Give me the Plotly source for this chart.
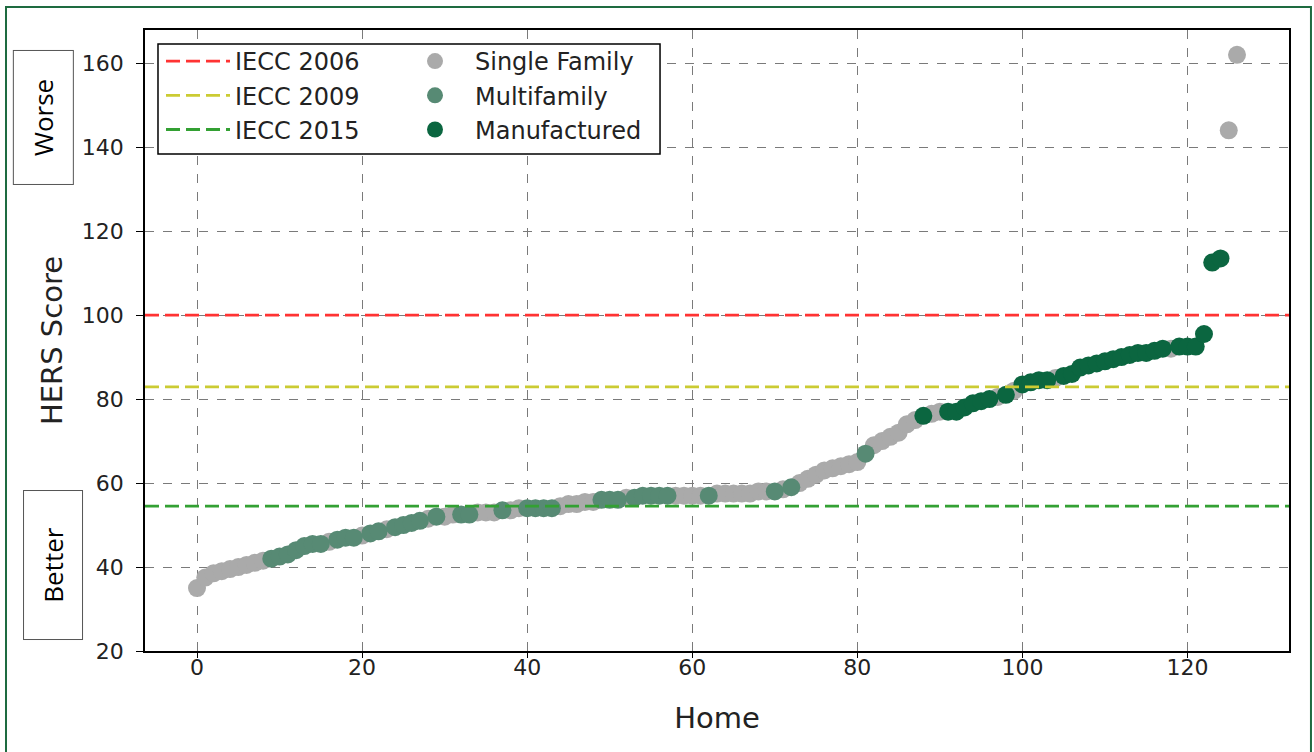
import plotly.graph_objects as go

# HERS scores for 127 homes, sorted ascending, with building type
scores = [
    35, 37.5, 38.5, 39, 39.5, 40, 40.5, 41, 41.5, 42,
    42.5, 43, 44, 45, 45.5, 45.5, 46, 46.5, 47, 47,
    47.5, 48, 48.5, 49, 49.5, 50, 50.5, 51, 51.5, 52,
    52, 52.5, 52.5, 52.5, 53, 53, 53, 53.5, 53.5, 54,
    54, 54, 54, 54, 54.5, 55, 55, 55.5, 55.5, 56,
    56, 56, 56.5, 56.5, 57, 57, 57, 57, 57, 57,
    57, 57, 57, 57.5, 57.5, 57.5, 57.5, 57.5, 58, 58,
    58, 58.5, 59, 60, 61, 62, 63, 63.5, 64, 64.5,
    65, 67, 69, 70, 71, 72, 74, 75, 76, 76.5,
    77, 77, 77, 78, 79, 79.5, 80, 80.5, 81, 82,
    83.5, 84, 84.5, 84.5, 85, 85.5, 86, 87.5, 88, 88.5,
    89, 89.5, 90, 90.5, 91, 91, 91.5, 92, 92, 92.5,
    92.5, 92.5, 95.5, 112.5, 113.5, 144, 162,
]
types = (
    ["S"] * 9
    + ["M", "M", "M", "M", "M", "M", "M", "S", "M", "M", "M",
       "S", "M", "M", "S", "M", "M", "M", "M", "S", "M",
       "S", "S", "M", "M", "S", "S", "S", "M", "S", "S",
       "M", "M", "M", "M", "S", "S", "S", "S", "S", "M",
       "M", "M", "S", "M", "M", "M", "M", "M", "S", "S",
       "S", "S", "M", "S", "S", "S", "S", "S", "S", "S",
       "M", "S", "M", "S", "S", "S", "S", "S", "S", "S",
       "S", "M", "S", "S", "S", "S", "S", "S", "F", "S",
       "S", "F", "F", "F", "F", "F", "F", "S", "F", "S",
       "F", "F", "F", "F", "S", "F", "F", "F", "F", "F",
       "F", "F", "F", "F", "F", "F", "F", "F", "S", "F",
       "F", "F", "F", "F", "F", "S", "S"]
)
homes = list(range(len(scores)))

code_names = ["IECC 2006", "IECC 2009", "IECC 2015"]
code_values = [100, 82.9, 54.5]
code_colors = ["#ff3333", "#cbcb33", "#33a033"]

type_keys = ["S", "M", "F"]
type_names = ["Single Family", "Multifamily", "Manufactured"]
type_colors = ["#aaaaaa", "#578a74", "#0b6640"]

x_ticks = [0, 20, 40, 60, 80, 100, 120]
y_ticks = [20, 40, 60, 80, 100, 120, 140, 160]

fig = go.Figure()

for i, (k, name, col) in enumerate(zip(type_keys, type_names, type_colors)):
    xs = [h for h, t in zip(homes, types) if t == k]
    ys = [s for s, t in zip(scores, types) if t == k]
    fig.add_trace(go.Scatter(
        x=xs, y=ys, mode="markers", name=name, legend="legend2",
        legendgroup="t%d" % i,
        marker=dict(size=18, color=col, line=dict(width=0)),
    ))

xmin, xmax = -6.3, 132.3
for i, (name, val, col) in enumerate(zip(code_names, code_values, code_colors)):
    fig.add_trace(go.Scatter(
        x=[xmin, xmax], y=[val, val], mode="lines", name=name, legend="legend",
        legendgroup="c%d" % i,
        line=dict(color=col, width=2.8, dash="14px,6px"),
    ))

axis_common = dict(
    showline=True, linecolor="black", linewidth=1.5, mirror=True,
    ticks="outside", tickcolor="black", tickwidth=1,
    showgrid=True, gridcolor="#7a7a7a", gridwidth=1, griddash="dash",
    zeroline=False,
    tickfont=dict(family="DejaVu Sans", size=22, color="#222222"),
)

fig.update_xaxes(range=[xmin, xmax], tickvals=x_ticks, ticklen=5, ticklabelstandoff=-9,
                 title=dict(text="Home", font=dict(family="DejaVu Sans", size=29, color="#222222"), standoff=29),
                 **axis_common)
fig.update_yaxes(range=[20, 167.9], tickvals=y_ticks, ticklen=7, ticklabelstandoff=8,
                 title=dict(text="HERS Score", font=dict(family="DejaVu Sans", size=29, color="#222222"), standoff=11),
                 **axis_common)

legend_font = dict(family="DejaVu Sans", size=24, color="#222222")
fig.update_layout(
    width=1314, height=752,
    margin=dict(l=145, r=25, t=30, b=101),
    paper_bgcolor="white", plot_bgcolor="white",
    showlegend=True,
    legend=dict(
        x=(161 - 145) / 1144, y=0.9855, xanchor="left", yanchor="top",
        bgcolor="rgba(0,0,0,0)", borderwidth=0,
        font=legend_font, itemwidth=64, tracegroupgap=0,
        traceorder="grouped",
    ),
    legend2=dict(
        x=(395 - 145) / 1144, y=0.9855, xanchor="left", yanchor="top",
        bgcolor="rgba(0,0,0,0)", borderwidth=0,
        font=legend_font, itemwidth=70, tracegroupgap=0,
        traceorder="grouped",
    ),
    shapes=[
        dict(type="rect", xref="paper", yref="paper",
             x0=-0.1215, x1=1.0192, y0=-0.2, y1=1.037,
             line=dict(color="#1e6b40", width=2), fillcolor="rgba(0,0,0,0)", layer="below"),
        dict(type="rect", xref="paper", yref="paper",
             x0=0.01136, x1=0.4502, y0=0.8003, y1=0.9775,
             line=dict(color="black", width=1.5), fillcolor="white", layer="above"),
    ],
    annotations=[
        dict(text="Worse", xref="paper", yref="paper", x=-0.0888, y=0.859,
             xanchor="center", yanchor="middle", showarrow=False, textangle=-90,
             font=dict(family="Open Sans", size=26, color="black"),
             bordercolor="#555555", borderwidth=1, borderpad=4, width=125, height=51,
             bgcolor="white"),
        dict(text="Better", xref="paper", yref="paper", x=-0.0804, y=0.1385,
             xanchor="center", yanchor="middle", showarrow=False, textangle=-90,
             font=dict(family="Open Sans", size=26, color="black"),
             bordercolor="#555555", borderwidth=1, borderpad=4, width=140, height=50,
             bgcolor="white"),
    ],
)

fig.write_html("out.html", post_script="document.body.style.margin='0';",
               config={"displayModeBar": False})
